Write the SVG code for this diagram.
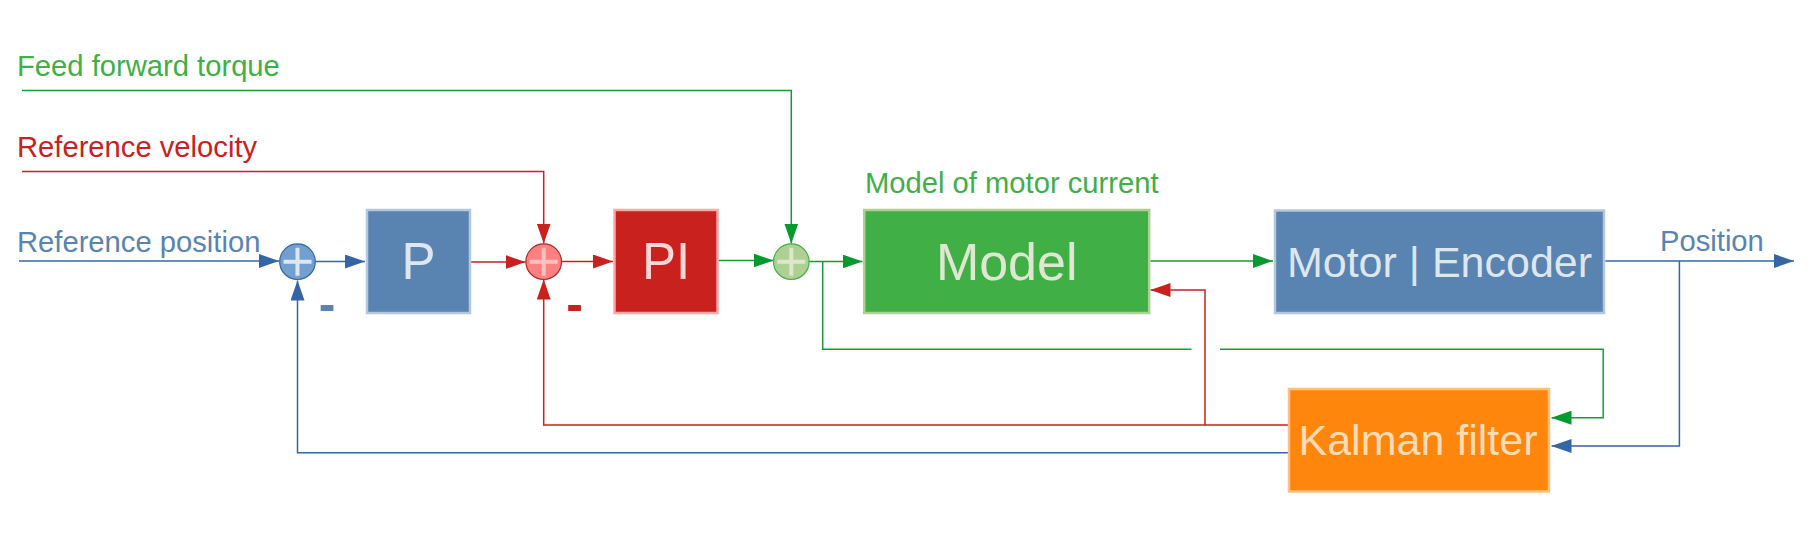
<svg xmlns="http://www.w3.org/2000/svg" width="1814" height="536" viewBox="0 0 1814 536">
  <defs>
    <marker id="ab" viewBox="0 0 20 14" refX="20" refY="7" markerWidth="20" markerHeight="14" markerUnits="userSpaceOnUse" orient="auto">
      <path d="M0,0 L20,7 L0,14 z" fill="#3465a4"/>
    </marker>
    <marker id="ar" viewBox="0 0 20 14" refX="20" refY="7" markerWidth="20" markerHeight="14" markerUnits="userSpaceOnUse" orient="auto">
      <path d="M0,0 L20,7 L0,14 z" fill="#c9211e"/>
    </marker>
    <marker id="ag" viewBox="0 0 20 14" refX="20" refY="7" markerWidth="20" markerHeight="14" markerUnits="userSpaceOnUse" orient="auto">
      <path d="M0,0 L20,7 L0,14 z" fill="#069a2e"/>
    </marker>
  </defs>
  <style>
    text { font-family: "Liberation Sans", Arial, sans-serif; }
    .lbl { font-size: 29.2px; }
    .blue { fill: #5983b0; }
    .red { fill: #c9211e; }
    .green { fill: #3faf46; }
    .cb { fill: none; stroke: #3465a4; stroke-width: 1.5; }
    .cr { fill: none; stroke: #c9211e; stroke-width: 1.5; }
    .cg { fill: none; stroke: #109d34; stroke-width: 1.5; }
    .box { stroke-width: 2.5; }
    .boxtxt { text-anchor: middle; }
    .plus { stroke-width: 4; fill: none; }
    .minus { font-size: 50px; font-weight: bold; text-anchor: middle; }
  </style>

  <rect width="1814" height="536" fill="#ffffff"/>

  <text class="lbl green" x="17" y="75.7">Feed forward torque</text>
  <text class="lbl red" x="17" y="157.3">Reference velocity</text>
  <text class="lbl blue" x="17" y="251.7">Reference position</text>
  <text class="lbl blue" x="1660" y="250.7">Position</text>

  <g id="connectors">
    <path class="cb" d="M19,261 H279" marker-end="url(#ab)"/>
    <path class="cb" d="M315.5,261.5 H365" marker-end="url(#ab)"/>
    <path class="cr" d="M470.5,262 H525.5" marker-end="url(#ar)"/>
    <path class="cr" d="M22,171.5 H543.7 V243.5" marker-end="url(#ar)"/>
    <path class="cr" d="M561.5,261.5 H613" marker-end="url(#ar)"/>
    <path class="cg" d="M718.6,260.5 H773.5" marker-end="url(#ag)"/>
    <path class="cg" d="M22,90.5 H791.3 V243.5" marker-end="url(#ag)"/>
    <path class="cg" d="M809,261.5 H862.5" marker-end="url(#ag)"/>
    <path class="cg" d="M822.7,261.5 V349.3 H1191.5"/>
    <path class="cg" d="M1220,349.3 H1603.2 V417.7 H1551.5" marker-end="url(#ag)"/>
    <path class="cg" d="M1150.3,261 H1273" marker-end="url(#ag)"/>
    <path class="cb" d="M1605.3,261 H1794" marker-end="url(#ab)"/>
    <path class="cb" d="M1679.4,261 V446 H1551.5" marker-end="url(#ab)"/>
    <path class="cr" d="M1288,425 H543.7 V279.5" marker-end="url(#ar)"/>
    <path class="cr" d="M1205,425 V290 H1150.5" marker-end="url(#ar)"/>
    <path class="cb" d="M1288,452.7 H297.5 V280.5" marker-end="url(#ab)"/>
  </g>

  <g id="sum1">
    <circle cx="297.5" cy="261.7" r="17.8" fill="#729fcf" stroke="#3465a4" stroke-width="1.2"/>
    <path class="plus" stroke="#dee6ef" d="M283.5,261.7 H311.5 M297.5,247.7 V275.7"/>
    <text class="minus blue" x="327" y="321">-</text>
  </g>

  <g id="P">
    <rect class="box" x="367" y="210" width="103" height="103" fill="#5983b0" stroke="#b4c7dc"/>
    <text class="boxtxt" x="418.5" y="279" font-size="51" fill="#dee6ef">P</text>
  </g>

  <g id="sum2">
    <circle cx="543.7" cy="261.7" r="17.8" fill="#ff8080" stroke="#a52a2a" stroke-width="1.2"/>
    <path class="plus" stroke="#ffc0c0" d="M529.7,261.7 H557.7 M543.7,247.7 V275.7"/>
    <text class="minus red" x="574.7" y="320.5">-</text>
  </g>

  <g id="PI">
    <rect class="box" x="614.5" y="210" width="103" height="103" fill="#c9211e" stroke="#ffa6a6"/>
    <text class="boxtxt" x="666" y="279" font-size="51" fill="#ffd7d7">PI</text>
  </g>

  <g id="sum3">
    <circle cx="791.3" cy="261.7" r="17.8" fill="#afd095" stroke="#3faf46" stroke-width="1.2"/>
    <path class="plus" stroke="#dde8cb" d="M777.3,261.7 H805.3 M791.3,247.7 V275.7"/>
  </g>

  <g id="Model">
    <text class="lbl green" x="865" y="192.7">Model of motor current</text>
    <rect class="box" x="864.2" y="210" width="285" height="103" fill="#3faf46" stroke="#afd095"/>
    <text class="boxtxt" x="1006.7" y="280" font-size="52" fill="#dee7d1">Model</text>
  </g>

  <g id="Motor">
    <rect class="box" x="1275" y="210.5" width="329" height="102.5" fill="#5983b0" stroke="#b4c7dc"/>
    <text class="boxtxt" x="1439.5" y="276.7" font-size="43" fill="#dee6ef">Motor | Encoder</text>
  </g>

  <g id="Kalman">
    <rect class="box" x="1289" y="389" width="260" height="102.5" fill="#ff860d" stroke="#ffbf80"/>
    <text class="boxtxt" x="1418" y="455" font-size="43" fill="#ffdbb6">Kalman filter</text>
  </g>
</svg>
